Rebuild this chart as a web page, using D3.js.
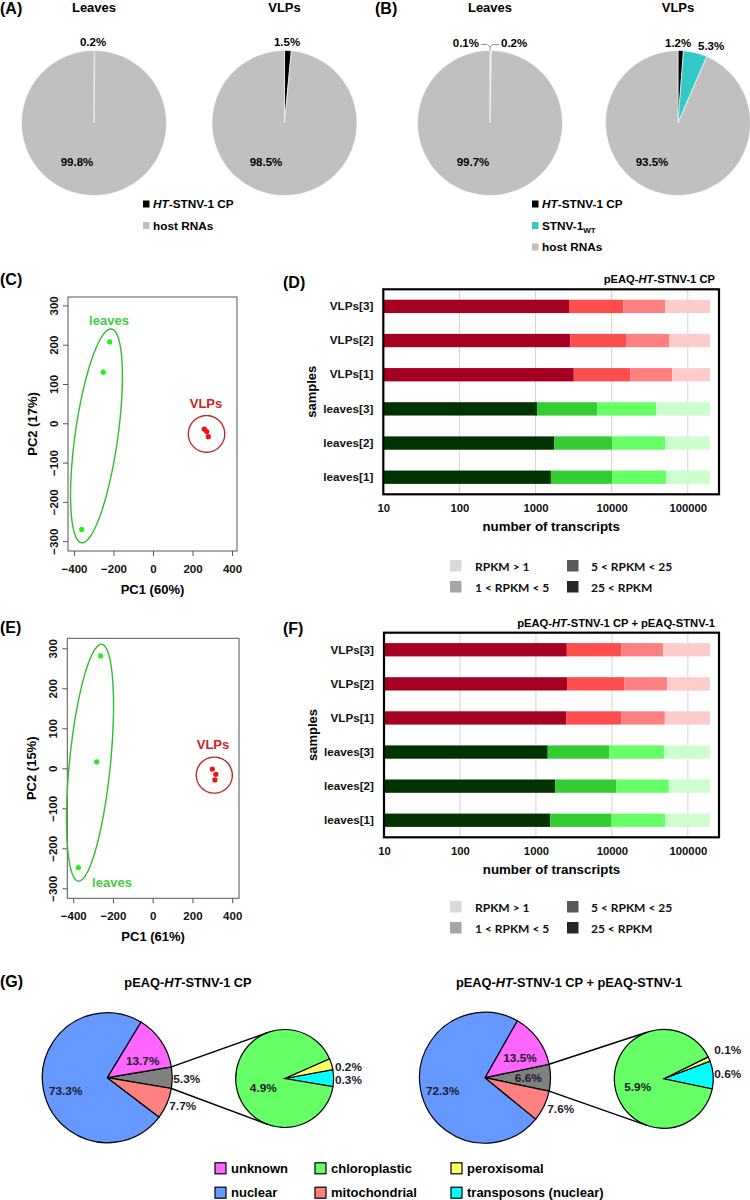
<!DOCTYPE html>
<html lang="en">
<head>
<meta charset="UTF-8">
<title>STNV-1 transcript figure</title>
<script src="https://d3js.org/d3.v7.min.js"></script>
<style>
  body { margin: 0; background: #fff; }
  svg { font-family: "Liberation Sans", Arial, sans-serif; font-weight: bold; }
  .cal { font-family: Lato, "Open Sans", sans-serif; }
</style>
</head>
<body>
<svg id="fig" width="750" height="1200"></svg>
<script>
// ---------- data ----------
const pieGroups = ["Leaves", "VLPs"];
const pieAValues = [[0.2, 99.8], [1.5, 98.5]];             // HT-STNV-1 CP, host RNAs
const pieBValues = [[0.1, 0.2, 99.7], [1.2, 5.3, 93.5]];   // HT-STNV-1 CP, STNV-1wt, host RNAs

const pcaCLeaves = [[-219, 207], [-252, 130], [-361, -270]];
const pcaCVLPs   = [[260, -15], [272, -21], [280, -34]];
const pcaELeaves = [[-262, 281], [-282, 16], [-374, -248]];
const pcaEVLPs   = [[300, -2], [318, -15], [313, -29]];
// ellipses: centre x, centre y, semi-axis u (x,y), semi-axis v (x,y), data units
const ellCLeaves = [-286, -32, 76, 272, 107, -8];
const ellCVLPs   = [271, -27, 0, 46.6, 92.2, 0];
const ellELeaves = [-315.5, 14, 58.8, 296, 102.7, -5];
const ellEVLPs   = [310, -17, 0, 45, 90.6, 0];
const pc1Ticks = [-400, -200, 0, 200, 400];
const pc2Ticks = [-300, -200, -100, 0, 100, 200, 300];

const samples = ["VLPs[3]", "VLPs[2]", "VLPs[1]", "leaves[3]", "leaves[2]", "leaves[1]"];
// number of transcripts above each RPKM threshold (>25, >5, >1, all)
const dRpkm25 = [2750, 2860, 3180, 1050, 1770, 1590];
const dRpkm5  = [14250, 15460, 17460, 6430, 10200, 10200];
const dRpkm1  = [50300, 56700, 62200, 38300, 50300, 51900];
const dTotal  = [196000, 196000, 196000, 196000, 196000, 196000];
const fRpkm25 = [2550, 2570, 2500, 1430, 1790, 1540];
const fRpkm5  = [13240, 14500, 13240, 9200, 11380, 9880];
const fRpkm1  = [47300, 53400, 49800, 48800, 56200, 50300];
const fTotal  = [196000, 196000, 196000, 196000, 196000, 196000];
const xTicks = [10, 100, 1000, 10000, 100000];
const rpkmLegend = ["RPKM > 1", "1 < RPKM < 5", "5 < RPKM < 25", "25 < RPKM"];

// main pie: other(zoomed), unknown, nuclear, mitochondrial ; sub pie: transposons, peroxisomal, chloroplastic
const g1Main = [5.3, 13.7, 73.3, 7.7];
const g2Main = [6.6, 13.5, 72.3, 7.6];
const g1Sub = [0.3, 0.2, 4.9];
const g2Sub = [0.6, 0.1, 5.9];
const locLegend = ["unknown", "nuclear", "chloroplastic", "mitochondrial", "peroxisomal", "transposons (nuclear)"];

// ---------- styles ----------
const pieAColors = ["#000000", "#c0c0c0"];
const pieBColors = ["#000000", "#33c9c9", "#c0c0c0"];
const vlpColors = ["#a50021", "#ff4d4d", "#ff8080", "#ffcccc"];
const leafColors = ["#003300", "#33cc33", "#66ff66", "#ccffcc"];
const rpkmColors = ["#d9d9d9", "#a6a6a6", "#595959", "#262626"];
const mainColors = ["#808080", "#ff66ff", "#6699ff", "#ff8080"];
const subColors = ["#00ffff", "#ffff66", "#66ff66"];
const locColors = ["#ff66ff", "#6699ff", "#66ff66", "#ff8080", "#ffff66", "#00ffff"];

const svg = d3.select("#fig");

function label(x, y, t, size, anchor) {
  return svg.append("text").attr("x", x).attr("y", y).attr("font-size", size)
    .attr("text-anchor", anchor || "start").text(t);
}
function rich(sel, parts) {
  parts.forEach(p => sel.append("tspan").attr("font-style", p[1] ? "italic" : null).text(p[0]));
  return sel;
}

// ---------- (A) and (B) ----------
label(0, 14, "(A)", 16);
label(375, 14, "(B)", 16);

const topPie = d3.pie().sort(null);
const topArc = d3.arc().innerRadius(0).outerRadius(72.5);
function topPieAt(cx, cy, values, colors) {
  const g = svg.append("g").attr("transform", `translate(${cx},${cy})`);
  g.selectAll("path").data(topPie(values)).join("path")
    .attr("d", topArc).attr("fill", (d, i) => colors[i])
    .attr("stroke", "#fff").attr("stroke-width", 0.6);
}
const aCx = [94, 284.5], bCx = [490, 678], pieCy = 123;
pieGroups.forEach((name, i) => {
  label(aCx[i], 12, name, 13, "middle");
  label(bCx[i], 12, name, 13, "middle");
  topPieAt(aCx[i], pieCy, pieAValues[i], pieAColors);
  topPieAt(bCx[i], pieCy, pieBValues[i], pieBColors);
});
const pct = v => v + "%";
label(93, 46, pct(pieAValues[0][0]), 11.5, "middle");
label(77, 166, pct(pieAValues[0][1]), 11.5, "middle");
label(287, 46, pct(pieAValues[1][0]), 11.5, "middle");
label(266, 166, pct(pieAValues[1][1]), 11.5, "middle");

label(479, 47, pct(pieBValues[0][0]), 11.5, "end");
label(501, 47, pct(pieBValues[0][1]), 11.5, "start");
label(473, 166, pct(pieBValues[0][2]), 11.5, "middle");
label(665, 47, pct(pieBValues[1][0]), 11.5, "start");
label(698, 50, pct(pieBValues[1][1]), 11.5, "start");
label(652, 166, pct(pieBValues[1][2]), 11.5, "middle");
svg.append("path").attr("d", "M481,44.5H487.5L490,47L492.5,44.5H499M490,47V51")
  .attr("fill", "none").attr("stroke", "#999").attr("stroke-width", 1);

// legends A, B
function smallLegend(x, y0, items) {
  items.forEach((it, i) => {
    const y = y0 + i * 21.5;
    svg.append("rect").attr("x", x).attr("y", y - 3.5).attr("width", 6.5).attr("height", 7).attr("fill", it.c);
    rich(label(x + 10, y + 4, "", 11.8), it.t);
  });
}
smallLegend(143, 204, [
  { c: pieAColors[0], t: [["HT", true], ["-STNV-1 CP"]] },
  { c: pieAColors[1], t: [["host RNAs"]] }
]);
smallLegend(532, 204, [
  { c: pieBColors[0], t: [["HT", true], ["-STNV-1 CP"]] },
  { c: pieBColors[1], t: [["STNV-1"]] },
  { c: pieBColors[2], t: [["host RNAs"]] }
]);
// subscript WT
svg.selectAll("text").filter(function () { return d3.select(this).text() === "STNV-1"; })
  .append("tspan").attr("font-size", 8).attr("dy", 3).text("WT");

// ---------- PCA (C) and (E) ----------
function pca(box, xDom, yDom, leaves, vlps, ellL, ellV, pcLabels, leafLabel, vlpLabel) {
  const x = d3.scaleLinear().domain(xDom).range([box.l, box.r]);
  const y = d3.scaleLinear().domain(yDom).range([box.b, box.t]);
  svg.append("rect").attr("x", box.l).attr("y", box.t).attr("width", box.r - box.l)
    .attr("height", box.b - box.t).attr("fill", "none").attr("stroke", "#555");
  const ax = svg.append("g").attr("transform", `translate(0,${box.b})`)
    .call(d3.axisBottom(x).tickValues(pc1Ticks).tickSize(5).tickPadding(9).tickSizeOuter(0));
  const ay = svg.append("g").attr("transform", `translate(${box.l},0)`)
    .call(d3.axisLeft(y).tickValues(pc2Ticks).tickSize(5).tickSizeOuter(0));
  [ax, ay].forEach(a => {
    a.select(".domain").remove();
    a.selectAll("line").attr("stroke", "#555");
    a.selectAll("text").attr("font-size", 11.5).attr("font-family", "Liberation Sans, Arial, sans-serif")
      .attr("font-weight", "bold").attr("fill", "#111");
  });
  ay.selectAll("text").attr("x", null).attr("dy", null).attr("text-anchor", "middle")
    .attr("transform", "translate(-10,0) rotate(-90)");
  label((box.l + box.r) / 2, box.b + 43, pcLabels[0], 13, "middle");
  label(0, 0, pcLabels[1], 13, "middle")
    .attr("transform", `translate(${box.l - 31},${(box.t + box.b) / 2}) rotate(-90)`);

  const ell = (e, col) => {
    const pts = d3.range(0, 361, 3).map(a => {
      const t = a * Math.PI / 180;
      return [x(e[0] + e[2] * Math.cos(t) + e[4] * Math.sin(t)), y(e[1] + e[3] * Math.cos(t) + e[5] * Math.sin(t))];
    });
    svg.append("path").attr("d", d3.line()(pts) + "Z").attr("fill", "none").attr("stroke", col).attr("stroke-width", 1.4);
  };
  ell(ellL, "#33bb33");
  ell(ellV, "#c0282d");
  svg.append("g").selectAll("circle").data(leaves).join("circle")
    .attr("cx", d => x(d[0])).attr("cy", d => y(d[1])).attr("r", 2.6).attr("fill", "#22ee22");
  svg.append("g").selectAll("circle").data(vlps).join("circle")
    .attr("cx", d => x(d[0])).attr("cy", d => y(d[1])).attr("r", 2.6).attr("fill", "#ee1111");
  label(leafLabel[0], leafLabel[1], "leaves", 13, "middle").attr("fill", "#44cc44");
  label(vlpLabel[0], vlpLabel[1], "VLPs", 13, "middle").attr("fill", "#cc2222");
}
label(0, 285, "(C)", 16);
pca({ l: 68, r: 237, t: 297, b: 551 }, [-430.2, 425.2], [-325, 321.4],
  pcaCLeaves, pcaCVLPs, ellCLeaves, ellCVLPs, ["PC1 (60%)", "PC2 (17%)"], [109, 325], [206, 408]);
label(0, 633, "(E)", 16);
pca({ l: 67.3, r: 239, t: 638.3, b: 898.3 }, [-429.8, 434.3], [-325, 325],
  pcaELeaves, pcaEVLPs, ellELeaves, ellEVLPs, ["PC1 (61%)", "PC2 (15%)"], [112, 887], [213, 749]);

// ---------- bar charts (D) and (F) ----------
function bars(box, r25, r5, r1, tot, title, legendY) {
  const x = d3.scaleLog().domain([10, 257000]).range([box.l, box.r]);
  const y = d3.scaleBand().domain(samples).range([box.t, box.b]).paddingInner(0.61).paddingOuter(0.305);
  svg.append("g").selectAll("line").data(xTicks.slice(1)).join("line")
    .attr("x1", d => x(d)).attr("x2", d => x(d)).attr("y1", box.t).attr("y2", box.b)
    .attr("stroke", "#d4d4d4").attr("stroke-width", 1);
  samples.forEach((s, i) => {
    const cols = s.startsWith("VLPs") ? vlpColors : leafColors;
    const edges = [10, r25[i], r5[i], r1[i], tot[i]];
    svg.append("g").selectAll("rect").data(d3.pairs(edges)).join("rect")
      .attr("x", d => x(d[0])).attr("width", d => x(d[1]) - x(d[0]))
      .attr("y", y(s)).attr("height", y.bandwidth()).attr("fill", (d, j) => cols[j]);
  });
  svg.append("rect").attr("x", box.l).attr("y", box.t).attr("width", box.r - box.l)
    .attr("height", box.b - box.t).attr("fill", "none").attr("stroke", "#000").attr("stroke-width", 2.2);
  const ax = svg.append("g").attr("transform", `translate(0,${box.b})`)
    .call(d3.axisBottom(x).tickValues(xTicks).tickFormat(d3.format("d")).tickSize(0).tickPadding(10));
  ax.select(".domain").remove();
  ax.selectAll("text").attr("font-size", 11.3).attr("font-family", "Liberation Sans, Arial, sans-serif")
    .attr("font-weight", "bold").attr("fill", "#111");
  const ay = svg.append("g").attr("transform", `translate(${box.l - 10},0)`)
    .call(d3.axisLeft(y).tickSize(0).tickPadding(0));
  ay.select(".domain").remove();
  ay.selectAll("text").attr("font-size", 11.7).attr("font-family", "Liberation Sans, Arial, sans-serif")
    .attr("font-weight", "bold").attr("fill", "#111");
  label((box.l + box.r) / 2, box.b + 37, "number of transcripts", 13.3, "middle");
  label(0, 0, "samples", 13, "middle")
    .attr("transform", `translate(${box.l - 67},${(box.t + box.b) / 2}) rotate(-90)`);
  rich(label(box.r - 4, box.t - 6, "", 11.2, "end"), title);

  rpkmLegend.forEach((t, i) => {
    const lx = i < 2 ? 450 : 567, ly = legendY + (i % 2) * 21;
    svg.append("rect").attr("x", lx).attr("y", ly - 6).attr("width", 11.5).attr("height", 11.5).attr("fill", rpkmColors[i]);
    label(lx + (i < 2 ? 25 : 24), ly + 4.5, t, 12).attr("class", "cal").attr("fill", "#111");
  });
}
label(283, 288, "(D)", 16);
bars({ l: 383.3, r: 719, t: 289.3, b: 494.3 }, dRpkm25, dRpkm5, dRpkm1, dTotal,
  [["pEAQ-"], ["HT", true], ["-STNV-1 CP"]], 566);
label(283, 634, "(F)", 16);
bars({ l: 384, r: 719, t: 632.7, b: 837.3 }, fRpkm25, fRpkm5, fRpkm1, fTotal,
  [["pEAQ-"], ["HT", true], ["-STNV-1 CP + pEAQ-STNV-1"]], 907);

// ---------- (G) pie of pie ----------
function pieOfPie(c, R, sc, r, main, sub, labels) {
  const a0 = Math.PI / 2 + main[0] / 100 * Math.PI; // counter-clockwise from east
  const pMain = d3.pie().sort(null).startAngle(a0).endAngle(a0 - 2 * Math.PI);
  const gm = svg.append("g").attr("transform", `translate(${c[0]},${c[1]})`);
  gm.selectAll("path").data(pMain(main)).join("path")
    .attr("d", d3.arc().innerRadius(0).outerRadius(R)).attr("fill", (d, i) => mainColors[i])
    .attr("stroke", "#000").attr("stroke-width", 1.2);
  const gs = svg.append("g").attr("transform", `translate(${sc[0]},${sc[1]})`);
  gs.selectAll("path").data(pMain(sub)).join("path")
    .attr("d", d3.arc().innerRadius(0).outerRadius(r)).attr("fill", (d, i) => subColors[i])
    .attr("stroke", "#000").attr("stroke-width", 1.2);
  const th = main[0] / 100 * Math.PI, ph = 110 * Math.PI / 180;
  [1, -1].forEach(s => {
    svg.append("line")
      .attr("x1", c[0] + R * Math.cos(th)).attr("y1", c[1] - s * R * Math.sin(th))
      .attr("x2", sc[0] + r * Math.cos(ph)).attr("y2", sc[1] - s * r * Math.sin(ph))
      .attr("stroke", "#000").attr("stroke-width", 1.4);
  });
  labels.forEach(l => {
    const o = l[0] === "main" ? c : sc;
    const v = l[0] === "main" ? main[l[1]] : sub[l[1]];
    label(o[0] + l[2], o[1] + l[3], pct(v), 11.8, l[4]).attr("dy", "0.35em").attr("fill", "#1a1a2a");
  });
}
label(0, 987, "(G)", 16);
rich(label(188, 987, "", 12.8, "middle"), [["pEAQ-"], ["HT", true], ["-STNV-1 CP"]]);
rich(label(569, 987, "", 12.8, "middle"), [["pEAQ-"], ["HT", true], ["-STNV-1 CP + pEAQ-STNV-1"]]);
pieOfPie([107.3, 1077.7], 65, [284.7, 1078.5], 49, g1Main, g1Sub, [
  ["main", 1, 35.4, -17, "middle"], ["main", 2, -41.6, 13, "middle"],
  ["main", 0, 66, 1.3, "start"], ["main", 3, 62, 28, "start"],
  ["sub", 2, -21.4, 9.8, "middle"], ["sub", 1, 50.3, -11.8, "start"], ["sub", 0, 50.3, 1.5, "start"]
]);
pieOfPie([485, 1077.7], 65.5, [663.8, 1078.8], 49.5, g2Main, g2Sub, [
  ["main", 1, 35, -19.4, "middle"], ["main", 2, -42.3, 13, "middle"],
  ["main", 0, 43.3, 0.6, "middle"], ["main", 3, 62.3, 31.3, "start"],
  ["sub", 2, -26.1, 8.5, "middle"], ["sub", 1, 50.5, -28.8, "start"], ["sub", 0, 50.5, -4.5, "start"]
]);
const legX = [215, 315, 451];
locLegend.forEach((t, i) => {
  const lx = legX[Math.floor(i / 2)], ly = 1168.3 + (i % 2) * 24.4;
  svg.append("rect").attr("x", lx).attr("y", ly - 5.5).attr("width", 11).attr("height", 11)
    .attr("fill", locColors[i]).attr("stroke", "#000").attr("stroke-width", 1.2);
  label(lx + 16, ly + 4.5, t, 13);
});
</script>
</body>
</html>
